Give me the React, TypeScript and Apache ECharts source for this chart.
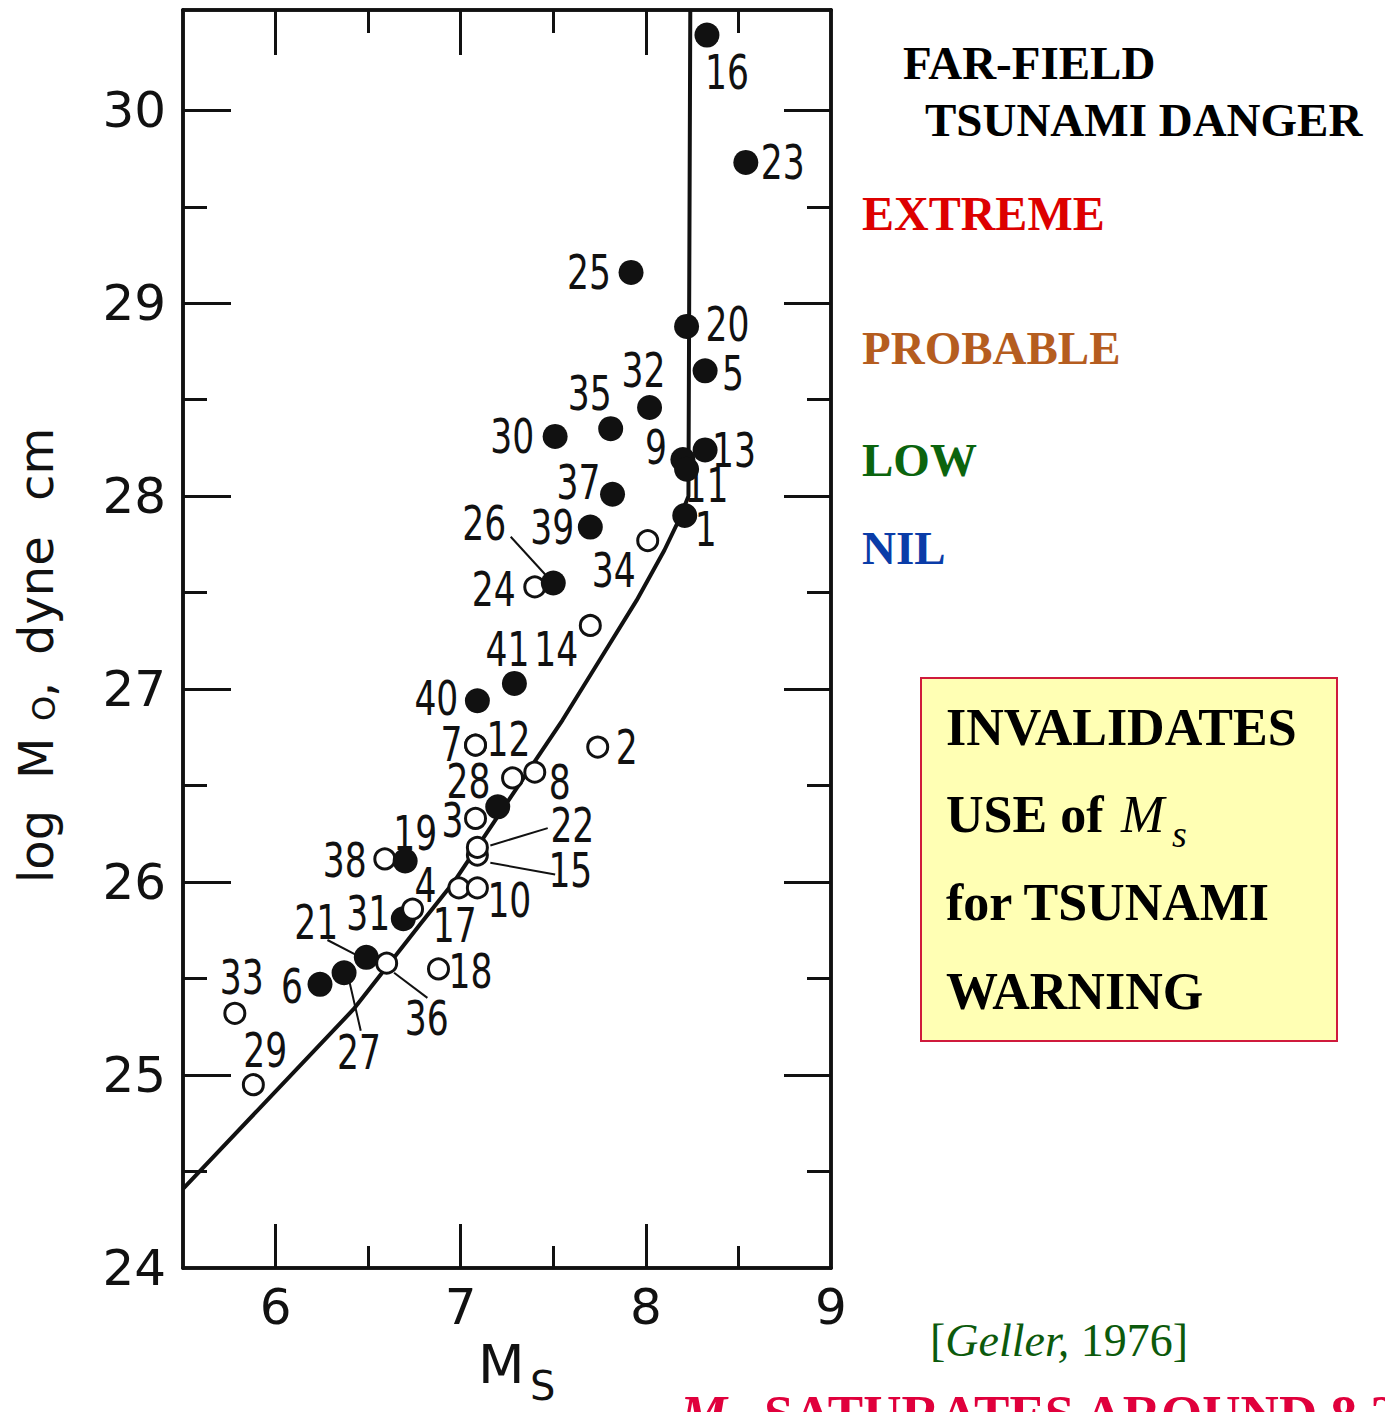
import React, { useEffect, useRef } from "react";
import * as echarts from "echarts";

// ---------- axis values ----------
const X_MIN = 5.5;
const X_MAX = 9;
const Y_MIN = 24;
const Y_MAX = 30.52;
const X_LABEL_VALUES = [6, 7, 8, 9];
const X_MAJOR_TICKS = [6, 7, 8];
const X_MINOR_TICKS = [6.5, 7.5, 8.5];
const Y_LABEL_VALUES = [24, 25, 26, 27, 28, 29, 30];
const Y_MAJOR_TICKS = [25, 26, 27, 28, 29, 30];
const Y_MINOR_TICKS = [24.5, 25.5, 26.5, 27.5, 28.5, 29.5];

// ---------- events (Ms, log M0) ----------
const EVENT_IDS = [
  "24", "38", "16", "23", "25", "20", "5", "32", "35", "30", "13", "9", "11", "37", "1", "39", "26",
  "41", "40", "", "19", "31", "21", "27", "6",
  "34", "14", "7", "12", "2", "28", "8", "3", "15", "22", "4", "17", "10", "36", "18", "33", "29",
];
const EVENT_MS = [
  7.40, 6.59, 8.33, 8.54, 7.92, 8.22, 8.32, 8.02, 7.81, 7.51, 8.32, 8.20, 8.22, 7.82, 8.21, 7.70, 7.50,
  7.29, 7.09, 7.20, 6.70, 6.69, 6.49, 6.37, 6.24,
  8.01, 7.70, 7.08, 7.08, 7.74, 7.28, 7.40, 7.08, 7.09, 7.09, 6.74, 6.99, 7.09, 6.60, 6.88, 5.78, 5.88,
];
const EVENT_LOGM0 = [
  27.53, 26.12, 30.39, 29.73, 29.16, 28.88, 28.65, 28.46, 28.35, 28.31, 28.24, 28.19, 28.14, 28.01, 27.90, 27.84, 27.55,
  27.03, 26.94, 26.39, 26.11, 25.81, 25.61, 25.53, 25.47,
  27.77, 27.33, 26.71, 26.71, 26.70, 26.54, 26.57, 26.33, 26.14, 26.18, 25.86, 25.97, 25.97, 25.58, 25.55, 25.32, 24.95,
];
// 1 = solid symbol, 0 = open symbol
const EVENT_FILLED = [
  0, 0, 1, 1, 1, 1, 1, 1, 1, 1, 1, 1, 1, 1, 1, 1, 1,
  1, 1, 1, 1, 1, 1, 1, 1,
  0, 0, 0, 0, 0, 0, 0, 0, 0, 0, 0, 0, 0, 0, 0, 0, 0,
];

// ---------- scaling curve ----------
const CURVE_MS = [5.5, 6.42, 6.78, 6.97, 7.27, 7.55, 7.75, 7.95, 8.10, 8.18, 8.23, 8.24];
const CURVE_LOGM0 = [24.41, 25.34, 25.78, 26.01, 26.44, 26.84, 27.15, 27.46, 27.72, 27.88, 28.0, 30.52];

// ---------- leader lines (label -> symbol) ----------
const LEADER_IDS = ["26", "22", "15", "21", "36", "27"];
const LEADER_MS_A = [7.27, 7.47, 7.51, 6.28, 6.64, 6.40];
const LEADER_LOG_A = [27.79, 26.28, 26.04, 25.70, 25.53, 25.48];
const LEADER_MS_B = [7.47, 7.16, 7.16, 6.44, 6.82, 6.46];
const LEADER_LOG_B = [27.58, 26.19, 26.10, 25.62, 25.40, 25.23];

// ---------- label placement (pixel offsets from symbol, style only) ----------
const LABEL_OFFSETS: Record<string, [number, number]> = {
  "16": [20, 37], "23": [37, 0], "25": [-42, 0], "20": [41, -2], "5": [28, 3],
  "32": [-6, -37], "35": [-21, -35], "30": [-43, 0], "9": [-27, -12], "13": [29, 0],
  "11": [20, 16], "37": [-34, -12], "39": [-38, 0], "1": [21, 14], "26": [-69, -60],
  "24": [-41, 2], "34": [-34, 30], "14": [-34, 24], "41": [-7, -34], "40": [-41, -2],
  "7": [-24, -1], "12": [33, -6], "2": [29, 0], "28": [-44, 3], "8": [25, 10],
  "3": [-23, 2], "22": [95, -22], "15": [93, 15], "19": [10, -28], "38": [-40, 1],
  "4": [13, -24], "31": [-35, -5], "17": [-4, 37], "10": [32, 12], "21": [-50, -35],
  "36": [40, 55], "18": [32, 2], "6": [-28, 2], "27": [15, 80], "33": [7, -36], "29": [12, -34],
};

const INK = "#111111";
const SANS = "'DejaVu Sans', 'Liberation Sans', sans-serif";
const SERIF = "'Liberation Serif', 'Times New Roman', serif";

function makeX(position: string, labels: boolean, ticks: number[], len: number) {
  return {
    type: "value",
    position,
    min: X_MIN,
    max: X_MAX,
    axisLine: { show: true, onZero: false, lineStyle: { color: INK, width: 3.5 } },
    splitLine: { show: false },
    axisTick: { show: true, inside: true, length: len, customValues: ticks, lineStyle: { color: INK, width: 3 } },
    axisLabel: labels
      ? { show: true, customValues: X_LABEL_VALUES, margin: 14, color: INK, fontSize: 50, fontFamily: SANS }
      : { show: false },
  };
}

function makeY(position: string, labels: boolean, ticks: number[], len: number) {
  return {
    type: "value",
    position,
    min: Y_MIN,
    max: Y_MAX,
    axisLine: { show: true, onZero: false, lineStyle: { color: INK, width: 3.5 } },
    splitLine: { show: false },
    axisTick: { show: true, inside: true, length: len, customValues: ticks, lineStyle: { color: INK, width: 3 } },
    axisLabel: labels
      ? { show: true, customValues: Y_LABEL_VALUES, margin: 17, color: INK, fontSize: 50, fontFamily: SANS }
      : { show: false },
  };
}

export default function App() {
  const ref = useRef<HTMLDivElement>(null);

  useEffect(() => {
    if (!ref.current) return;
    const chart = echarts.init(ref.current, undefined, { renderer: "svg" });

    const eventData = EVENT_MS.map((m, i) => [m, EVENT_LOGM0[i], i]);
    const curveData = CURVE_MS.map((m, i) => [m, CURVE_LOGM0[i]]);
    const leaderData = LEADER_IDS.map((id, i) => ({
      name: id,
      coords: [
        [LEADER_MS_A[i], LEADER_LOG_A[i]],
        [LEADER_MS_B[i], LEADER_LOG_B[i]],
      ],
    }));

    const txt = (x: number, y: number, text: string, size: number, fill: string, extra: any = {}) => ({
      type: "text",
      x,
      y,
      silent: true,
      style: {
        text,
        fontSize: size,
        fontFamily: SERIF,
        fontWeight: "bold",
        fill,
        align: "left",
        verticalAlign: "middle",
        ...extra,
      },
    });

    const sansTxt = (x: number, y: number, text: string, size: number) => ({
      type: "text",
      x,
      y,
      silent: true,
      style: { text, fontSize: size, fontFamily: SANS, fill: INK, align: "left", verticalAlign: "middle" },
    });

    const option: any = {
      animation: false,
      backgroundColor: "#ffffff",
      grid: { left: 183, top: 10, width: 648, height: 1258, containLabel: false, outerBoundsMode: "none" },
      xAxis: [
        makeX("bottom", true, X_MAJOR_TICKS, 44),
        makeX("bottom", false, X_MINOR_TICKS, 22),
        makeX("top", false, X_MAJOR_TICKS, 45),
        makeX("top", false, X_MINOR_TICKS, 23),
      ],
      yAxis: [
        makeY("left", true, Y_MAJOR_TICKS, 48),
        makeY("left", false, Y_MINOR_TICKS, 24),
        makeY("right", false, Y_MAJOR_TICKS, 47),
        makeY("right", false, Y_MINOR_TICKS, 24),
      ],
      series: [
        {
          type: "line",
          xAxisIndex: 0,
          yAxisIndex: 0,
          data: curveData,
          symbol: "none",
          silent: true,
          lineStyle: { color: INK, width: 4 },
          z: 2,
        },
        {
          type: "lines",
          coordinateSystem: "cartesian2d",
          xAxisIndex: 0,
          yAxisIndex: 0,
          data: leaderData,
          silent: true,
          lineStyle: { color: INK, width: 2, opacity: 1, curveness: 0 },
          z: 3,
        },
        {
          type: "custom",
          xAxisIndex: 0,
          yAxisIndex: 0,
          data: eventData,
          silent: true,
          z: 4,
          renderItem: (params: any, api: any) => {
            const i = api.value(2);
            const p = api.coord([api.value(0), api.value(1)]);
            const filled = EVENT_FILLED[i] === 1;
            const id = EVENT_IDS[i];
            const off = LABEL_OFFSETS[id] || [0, 0];
            const children: any[] = [
              {
                type: "circle",
                shape: { cx: p[0], cy: p[1], r: filled ? 12.5 : 10 },
                style: filled ? { fill: INK } : { fill: "#ffffff", stroke: INK, lineWidth: 3 },
              },
            ];
            if (id) {
              children.push({
                type: "text",
                x: p[0] + off[0],
                y: p[1] + off[1],
                scaleX: 0.72,
                style: {
                  text: id,
                  fontSize: 48,
                  fontFamily: SANS,
                  fill: INK,
                  align: "center",
                  verticalAlign: "middle",
                },
              });
            }
            return { type: "group", children };
          },
        },
      ],
      graphic: [
        // axis names
        {
          type: "group",
          x: 36,
          y: 883,
          rotation: Math.PI / 2,
          silent: true,
          children: [
            { type: "text", x: 0, y: 0, style: { text: "log", fontSize: 48, fontFamily: SANS, fill: INK, align: "left", verticalAlign: "middle" } },
            { type: "text", x: 104, y: 0, style: { text: "M", fontSize: 48, fontFamily: SANS, fill: INK, align: "left", verticalAlign: "middle" } },
            { type: "text", x: 162, y: 8, style: { text: "O", fontSize: 32, fontFamily: SANS, fill: INK, align: "left", verticalAlign: "middle" } },
            { type: "text", x: 186, y: 0, style: { text: ",", fontSize: 48, fontFamily: SANS, fill: INK, align: "left", verticalAlign: "middle" } },
            { type: "text", x: 228, y: 0, style: { text: "dyne", fontSize: 48, fontFamily: SANS, fill: INK, align: "left", verticalAlign: "middle" } },
            { type: "text", x: 382, y: 0, style: { text: "cm", fontSize: 48, fontFamily: SANS, fill: INK, align: "left", verticalAlign: "middle" } },
          ],
        },
        sansTxt(478, 1364, "M", 54),
        sansTxt(530, 1386, "S", 40),
        // right-hand legend texts
        txt(903, 63, "FAR-FIELD", 47, "#000000"),
        txt(925, 120, "TSUNAMI DANGER", 47, "#000000"),
        txt(862, 213, "EXTREME", 48, "#dd0000"),
        txt(862, 348, "PROBABLE", 47, "#b55d1f"),
        txt(862, 460, "LOW", 47, "#0b640e"),
        txt(862, 548, "NIL", 47, "#0a3ca8"),
        // yellow box
        {
          type: "rect",
          silent: true,
          shape: { x: 921, y: 678, width: 416, height: 363 },
          style: { fill: "#ffffb4", stroke: "#cf1a3c", lineWidth: 2 },
        },
        txt(946, 727, "INVALIDATES", 52, "#000000"),
        txt(946, 814, "USE of", 52, "#000000"),
        txt(1121, 814, "M", 52, "#000000", { fontStyle: "italic", fontWeight: "normal" }),
        txt(1172, 834, "s", 38, "#000000", { fontStyle: "italic", fontWeight: "normal" }),
        txt(946, 902, "for TSUNAMI", 52, "#000000"),
        txt(946, 991, "WARNING", 52, "#000000"),
        // citation
        {
          type: "text",
          x: 930,
          y: 1340,
          silent: true,
          style: {
            text: "{n|[}{i|Geller,}{n| 1976]}",
            align: "left",
            verticalAlign: "middle",
            rich: {
              n: { fontSize: 46, fontFamily: SERIF, fill: "#0c5a0c" },
              i: { fontSize: 46, fontFamily: SERIF, fontStyle: "italic", fill: "#0c5a0c" },
            },
          },
        },
        // bottom caption (cut off by page edge, as in the reference)
        txt(680, 1414, "M", 53, "#e0003c", { fontStyle: "italic" }),
        txt(733, 1432, "s", 38, "#e0003c", { fontStyle: "italic" }),
        txt(764, 1414, "SATURATES AROUND 8.2", 53, "#e0003c"),
      ],
    };

    chart.setOption(option);
    return () => chart.dispose();
  }, []);

  return (
    <div
      ref={ref}
      style={{ position: "absolute", left: 0, top: 0, width: 1385, height: 1412, background: "#ffffff" }}
    />
  );
}
